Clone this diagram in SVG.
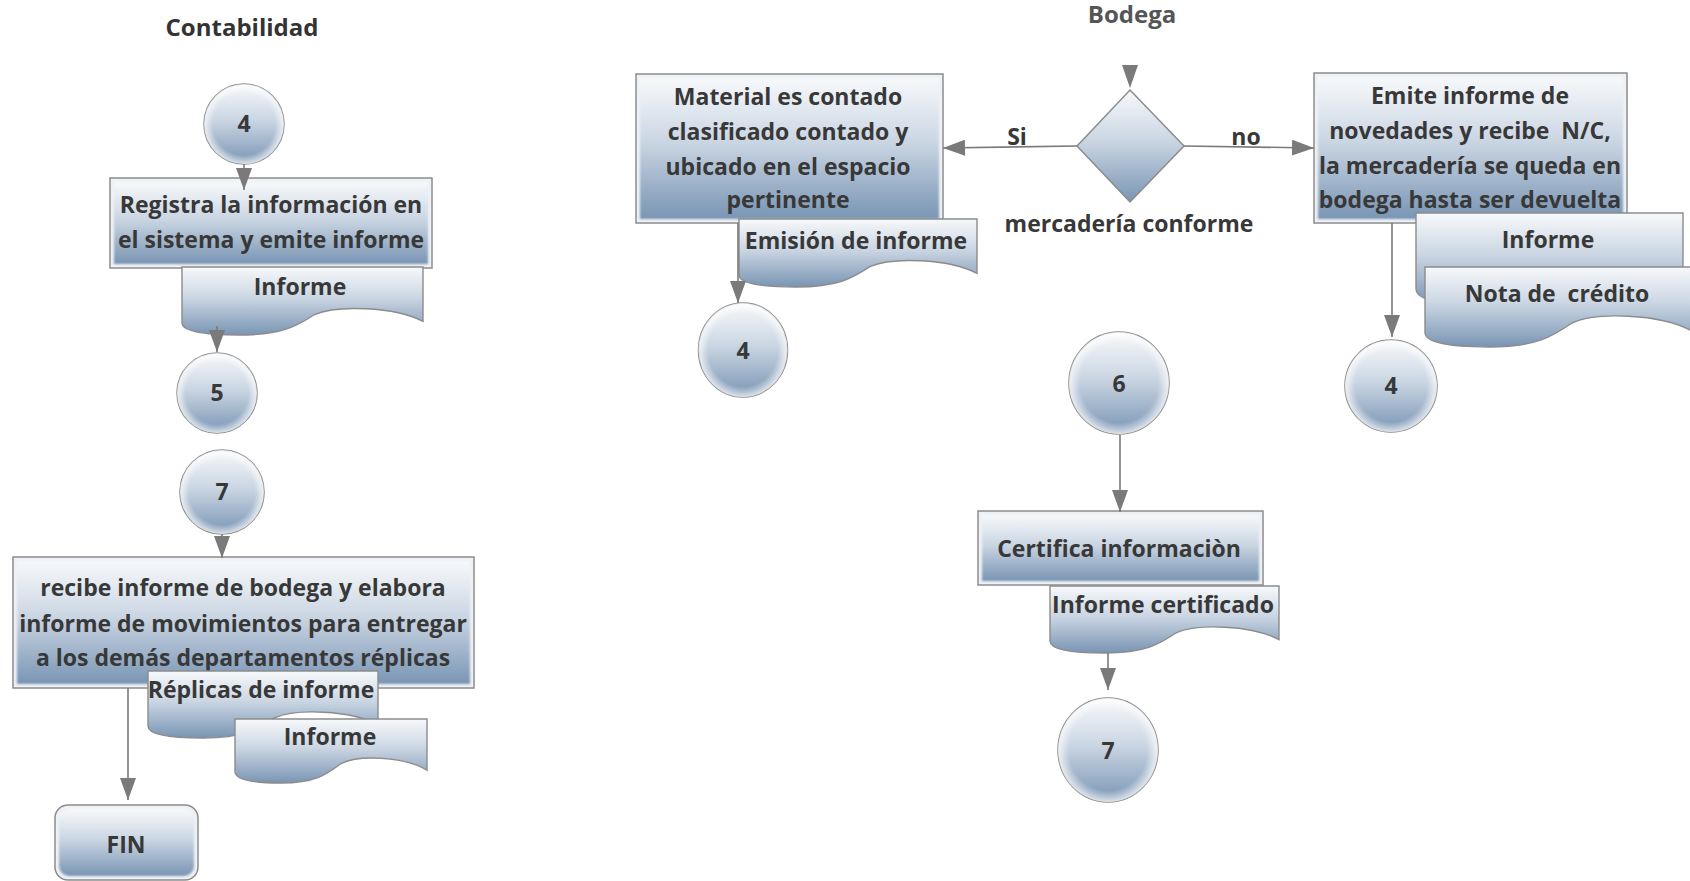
<svg xmlns="http://www.w3.org/2000/svg" width="1690" height="881" viewBox="0 0 1690 881">
  <defs>
    <linearGradient id="shade" x1="0" y1="0" x2="0" y2="1">
      <stop offset="0" stop-color="#f7f9fb"/>
      <stop offset="0.45" stop-color="#cbd6e3"/>
      <stop offset="1" stop-color="#7995b4"/>
    </linearGradient>
    <radialGradient id="rim" cx="0.5" cy="0.5" r="0.5">
      <stop offset="0.78" stop-color="#ffffff" stop-opacity="0"/>
      <stop offset="1" stop-color="#ffffff" stop-opacity="0.75"/>
    </radialGradient>
    <filter id="soft" x="-5%" y="-5%" width="110%" height="110%">
      <feGaussianBlur stdDeviation="1.2"/>
    </filter>
    <marker id="arrow" markerUnits="userSpaceOnUse" markerWidth="22" markerHeight="16" refX="22" refY="8" orient="auto">
      <path d="M0,0 L22,8 L0,16 Z" fill="#7a7a7a"/>
    </marker>
    <style>
      .frame { fill: #eef1f5; stroke: #8c8c8c; stroke-width: 1.5; }
      .inner { fill: url(#shade); filter: url(#soft); }
      .circ { fill: url(#shade); stroke: #8c8c8c; stroke-width: 1.5; }
      .glow { fill: url(#rim); }
      .doc { fill: url(#shade); stroke: #8c8c8c; stroke-width: 1.4; }
      .dia { fill: url(#shade); stroke: #8c8c8c; stroke-width: 1.5; }
      .t { font-family: "Open Sans", "Liberation Sans", sans-serif; font-weight: 700; font-size: 23px; fill: #383838; text-anchor: middle; white-space: pre; }
      .title { font-family: "Open Sans", "Liberation Sans", sans-serif; font-weight: 700; font-size: 24px; text-anchor: middle; }
      .conn { fill: none; stroke: #7a7a7a; stroke-width: 1.6; }
      .head { fill: #7a7a7a; }
    </style>
  </defs>

  <rect width="1690" height="881" fill="#ffffff"/>

  <!-- lane titles -->
  <text class="title" x="242" y="36" fill="#333333">Contabilidad</text>
  <text class="title" x="1132" y="23" fill="#555555">Bodega</text>

  <!-- Contabilidad lane -->
  <g id="c4-left">
    <circle class="circ" cx="244" cy="124" r="40"/>
    <circle class="glow" cx="244" cy="124" r="40"/>
    <text class="t" x="244" y="132">4</text>
  </g>

  <g id="registra">
    <rect class="frame" x="110" y="178" width="322" height="90"/>
    <rect class="inner" x="114" y="182" width="314" height="82"/>
    <text class="t" x="271" y="213">Registra la información en</text>
    <text class="t" x="271" y="248">el sistema y emite informe</text>
  </g>

  <g id="doc-informe-1">
    <path class="doc" d="M182,267 H423 V321.4 C394.1,306.4 336.2,305.1 314.6,314.6 C297.7,325.5 283.2,335 239.8,335 C198.9,335 182,330.2 182,322.8 Z"/>
    <text class="t" x="300" y="295">Informe</text>
  </g>

  <g id="c5">
    <circle class="circ" cx="217" cy="393" r="40"/>
    <circle class="glow" cx="217" cy="393" r="40"/>
    <text class="t" x="217" y="401">5</text>
  </g>

  <g id="c7-left">
    <circle class="circ" cx="222" cy="492" r="42"/>
    <circle class="glow" cx="222" cy="492" r="42"/>
    <text class="t" x="222" y="500">7</text>
  </g>

  <g id="recibe">
    <rect class="frame" x="13" y="557" width="461" height="131"/>
    <rect class="inner" x="17" y="561" width="453" height="123"/>
    <text class="t" x="243" y="596">recibe informe de bodega y elabora</text>
    <text class="t" x="243" y="632">informe de movimientos para entregar</text>
    <text class="t" x="243" y="666">a los demás departamentos réplicas</text>
  </g>

  <g id="doc-replicas">
    <path class="doc" d="M148,671 H378 V724.6 C350.4,709.9 295.2,708.5 274.5,717.9 C258.4,728.6 244.6,738 203.2,738 C164.1,738 148,733.3 148,725.9 Z"/>
    <text class="t" x="261" y="698">Réplicas de informe</text>
  </g>

  <g id="doc-informe-2">
    <path class="doc" d="M235,719 H427 V770.2 C404,756.1 357.9,754.8 340.6,763.8 C327.2,774 315.6,783 281.1,783 C248.4,783 235,778.5 235,771.5 Z"/>
    <text class="t" x="330" y="745">Informe</text>
  </g>

  <g id="fin">
    <rect class="frame" x="55" y="805" width="143" height="75" rx="13"/>
    <rect class="inner" x="59" y="809" width="135" height="67" rx="10"/>
    <text class="t" x="126" y="853">FIN</text>
  </g>

  <!-- Bodega lane -->
  <g id="decision">
    <polygon class="dia" points="1130,90 1184,146 1130,202 1077,146"/>
    <text class="t" x="1129" y="232">mercadería conforme</text>
  </g>

  <g id="material">
    <rect class="frame" x="636" y="74" width="307" height="149"/>
    <rect class="inner" x="640" y="78" width="299" height="141"/>
    <text class="t" x="788" y="105">Material es contado</text>
    <text class="t" x="788" y="140">clasificado contado y</text>
    <text class="t" x="788" y="175">ubicado en el espacio</text>
    <text class="t" x="788" y="208">pertinente</text>
  </g>

  <g id="doc-emision">
    <path class="doc" d="M739,219 H977 V273.4 C948.4,258.4 891.3,257.1 869.9,266.6 C853.2,277.5 839,287 796.1,287 C755.7,287 739,282.2 739,274.8 Z"/>
    <text class="t" x="856" y="249">Emisión de informe</text>
  </g>

  <g id="c4-mid">
    <ellipse class="circ" cx="743" cy="350" rx="44.5" ry="47"/>
    <ellipse class="glow" cx="743" cy="350" rx="44.5" ry="47"/>
    <text class="t" x="743" y="359">4</text>
  </g>

  <g id="emite">
    <rect class="frame" x="1314" y="73" width="313" height="150"/>
    <rect class="inner" x="1318" y="77" width="305" height="142"/>
    <text class="t" x="1470" y="104">Emite informe de</text>
    <text class="t" x="1470" y="139">novedades y recibe  N/C,</text>
    <text class="t" x="1470" y="174">la mercadería se queda en</text>
    <text class="t" x="1470" y="208">bodega hasta ser devuelta</text>
  </g>

  <g id="doc-informe-3">
    <path class="doc" d="M1416,213 H1683 V286.6 C1651,266.4 1586.9,264.5 1562.9,277.4 C1544.2,292.1 1528.1,305 1480.1,305 C1434.7,305 1416,298.6 1416,288.4 Z"/>
    <text class="t" x="1548" y="248">Informe</text>
  </g>

  <g id="doc-nota">
    <path class="doc" d="M1425,267 H1692 V331 C1660,313.4 1595.9,311.8 1571.9,323 C1553.2,335.8 1537.1,347 1489.1,347 C1443.7,347 1425,341.4 1425,332.6 Z"/>
    <text class="t" x="1557" y="302">Nota de  crédito</text>
  </g>

  <g id="c4-right">
    <circle class="circ" cx="1391" cy="386" r="46"/>
    <circle class="glow" cx="1391" cy="386" r="46"/>
    <text class="t" x="1391" y="394">4</text>
  </g>

  <g id="c6">
    <ellipse class="circ" cx="1119" cy="383" rx="50" ry="51"/>
    <ellipse class="glow" cx="1119" cy="383" rx="50" ry="51"/>
    <text class="t" x="1119" y="392">6</text>
  </g>

  <g id="certifica">
    <rect class="frame" x="978" y="511" width="285" height="74"/>
    <rect class="inner" x="982" y="515" width="277" height="66"/>
    <text class="t" x="1119" y="557">Certifica informaciòn</text>
  </g>

  <g id="doc-certificado">
    <path class="doc" d="M1050,586 H1279 V639.6 C1251.5,624.9 1196.6,623.5 1176,632.9 C1159.9,643.6 1146.2,653 1105,653 C1066,653 1050,648.3 1050,640.9 Z"/>
    <text class="t" x="1163" y="613">Informe certificado</text>
  </g>

  <g id="c7-right">
    <ellipse class="circ" cx="1108" cy="750" rx="50" ry="52"/>
    <ellipse class="glow" cx="1108" cy="750" rx="50" ry="52"/>
    <text class="t" x="1108" y="759">7</text>
  </g>

  <!-- connectors -->
  <g id="connectors">
    <path class="conn" d="M244,164 V190" marker-end="url(#arrow)"/>
    <path class="conn" d="M217,326 V352" marker-end="url(#arrow)"/>
    <path class="conn" d="M222,534 V558" marker-end="url(#arrow)"/>
    <path class="conn" d="M128,688 V800" marker-end="url(#arrow)"/>
    <polygon class="head" points="1122,65 1138,65 1130,88"/>
    <path class="conn" d="M1077,146 L943,148" marker-end="url(#arrow)"/>
    <path class="conn" d="M1184,146 L1314,148" marker-end="url(#arrow)"/>
    <path class="conn" d="M738,223 V303" marker-end="url(#arrow)"/>
    <path class="conn" d="M1392,223 V337" marker-end="url(#arrow)"/>
    <path class="conn" d="M1120,435 V512" marker-end="url(#arrow)"/>
    <path class="conn" d="M1108,653 V690" marker-end="url(#arrow)"/>
    <text class="t" x="1017" y="145">Si</text>
    <text class="t" x="1246" y="145">no</text>
  </g>
</svg>
